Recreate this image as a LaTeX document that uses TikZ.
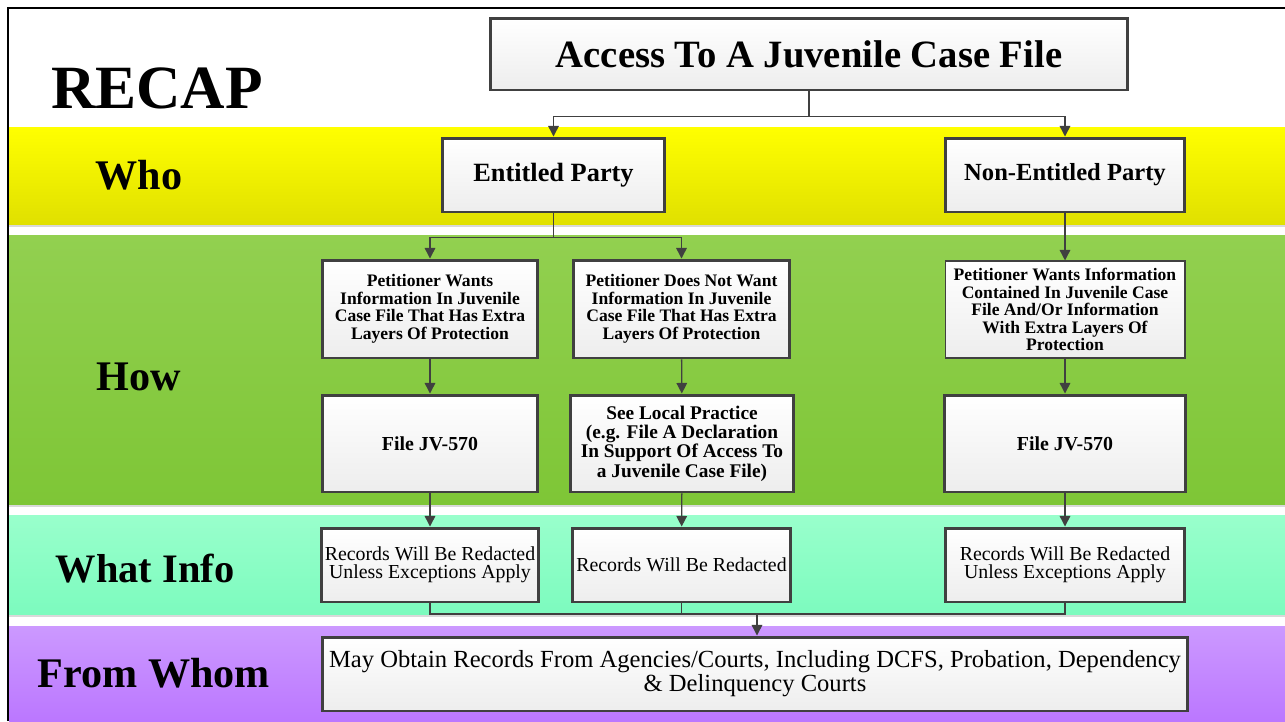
\documentclass[tikz,border=0pt]{standalone}
\usepackage{fontspec}
\setmainfont{Liberation Serif}
\usetikzlibrary{arrows.meta}
\definecolor{lineg}{HTML}{404040}
\definecolor{yeltop}{HTML}{FFFF00}
\definecolor{yelbot}{HTML}{E0E000}
\definecolor{grntop}{HTML}{92D050}
\definecolor{grnbot}{HTML}{7EC636}
\definecolor{mnttop}{HTML}{99FFCC}
\definecolor{mntbot}{HTML}{7CFBBE}
\definecolor{prptop}{HTML}{CC99FF}
\definecolor{prpbot}{HTML}{BB77FF}
\tikzset{
  box/.style={draw=lineg,line width=1.7pt,top color=white,bottom color=black!7,
    align=center,inner sep=2pt},
  thinbox/.style={box,line width=0.6pt},
  arr/.style={draw=lineg,line width=0.8pt,-{Triangle[length=6pt,width=6pt]}},
  con/.style={draw=lineg,line width=0.8pt},
  band/.style={font=\bfseries\fontsize{24}{28}\selectfont}
}
\begin{document}
\begin{tikzpicture}[x=0.02cm,y=-0.02cm]
\useasboundingbox (0,0) rectangle (1285,721);
\fill[white] (0,0) rectangle (1285,721);
\fill[top color=yeltop,bottom color=yelbot] (9,127) rectangle (1285,225);
\fill[top color=grntop,bottom color=grnbot] (9,235) rectangle (1285,505);
\fill[top color=mnttop,bottom color=mntbot] (9,515) rectangle (1285,615);
\fill[top color=prptop,bottom color=prpbot] (9,626) rectangle (1285,721);
\draw[black!15,line width=1pt] (9,226) -- (1285,226) (9,506) -- (1285,506) (9,616) -- (1285,616);
\draw[black,line width=1.3pt] (8,721) -- (8,8) -- (1285,8);

\node[font=\bfseries\fontsize{35}{40}\selectfont] (recap) at (157,88) {RECAP};
\node[band] (who) at (139,175) {Who};
\node[band] (how) at (139,377) {How};
\node[font=\fontsize{23}{28}\selectfont\bfseries] (what) at (145,569) {What Info};
\node[band] (whom) at (154,673) {From Whom};

\node[box,minimum width=12.76cm,minimum height=1.44cm,font=\bfseries\fontsize{22}{24}\selectfont] (title) at (809,54) {Access To A Juvenile Case File};
\node[box,minimum width=4.46cm,minimum height=1.48cm,font=\bfseries\fontsize{15}{16}\selectfont] (ent) at (553.5,175) {Entitled Party};
\node[box,minimum width=4.8cm,minimum height=1.48cm,font=\bfseries\fontsize{14}{15}\selectfont] (nonent) at (1065,175) {Non-Entitled Party};

\node[box,minimum width=4.32cm,minimum height=1.96cm,font=\bfseries\fontsize{10}{10}\selectfont] (want) at (430,309) {Petitioner Wants\\Information In Juvenile\\Case File That Has Extra\\Layers Of Protection};
\node[box,minimum width=4.34cm,minimum height=1.96cm,font=\bfseries\fontsize{10}{10}\selectfont] (notwant) at (681.5,309) {Petitioner Does Not Want\\Information In Juvenile\\Case File That Has Extra\\Layers Of Protection};
\node[thinbox,minimum width=4.8cm,minimum height=1.94cm,font=\bfseries\fontsize{10}{10}\selectfont] (nwant) at (1065,309.5) {Petitioner Wants Information\\Contained In Juvenile Case\\File And/Or Information\\With Extra Layers Of\\Protection};

\node[box,minimum width=4.32cm,minimum height=1.94cm,font=\bfseries\fontsize{11.3}{12}\selectfont] (jva) at (430,443.5) {File JV-570};
\node[box,minimum width=4.48cm,minimum height=1.94cm,font=\bfseries\fontsize{11}{11}\selectfont] (local) at (682,443.5) {See Local Practice\\(e.g. File A Declaration\\In Support Of Access To\\a Juvenile Case File)};
\node[box,minimum width=4.84cm,minimum height=1.94cm,font=\bfseries\fontsize{11.3}{12}\selectfont] (jvb) at (1065,443.5) {File JV-570};

\node[box,minimum width=4.32cm,minimum height=1.48cm,font=\fontsize{11.3}{10.5}\selectfont] (reda) at (430,565) {Records Will Be Redacted\\Unless Exceptions Apply};
\node[box,minimum width=4.34cm,minimum height=1.48cm,font=\fontsize{11.3}{10.5}\selectfont] (redb) at (681.5,565) {Records Will Be Redacted};
\node[box,minimum width=4.8cm,minimum height=1.48cm,font=\fontsize{11.3}{10.5}\selectfont] (redc) at (1065,565) {Records Will Be Redacted\\Unless Exceptions Apply};

\node[box,minimum width=17.32cm,minimum height=1.48cm,font=\fontsize{14}{12.5}\selectfont] (obtain) at (755,674) {May Obtain Records From Agencies/Courts, Including DCFS, Probation, Dependency\\\& Delinquency Courts};

\draw[arr] (title.south) -- ++(0,25) -| (ent.north);
\draw[arr] (title.south) -- ++(0,25) -| (nonent.north);
\draw[arr] (ent.south) -- ++(0,24) -| (want.north);
\draw[arr] (ent.south) -- ++(0,24) -| (notwant.north);
\draw[arr] (nonent) -- (nwant);
\draw[arr] (want) -- (jva);
\draw[arr] (notwant) -- (local);
\draw[arr] (nwant) -- (jvb);
\draw[arr] (jva) -- (reda);
\draw[arr] (local) -- (redb);
\draw[arr] (jvb) -- (redc);

\coordinate (join) at (757,614);
\draw[con] (reda.south) |- (join);
\draw[con] (redc.south) |- (join);
\draw[con] (redb.south) -- (redb.south |- join);
\draw[arr] (join) -- (join |- obtain.north);
\end{tikzpicture}
\end{document}
